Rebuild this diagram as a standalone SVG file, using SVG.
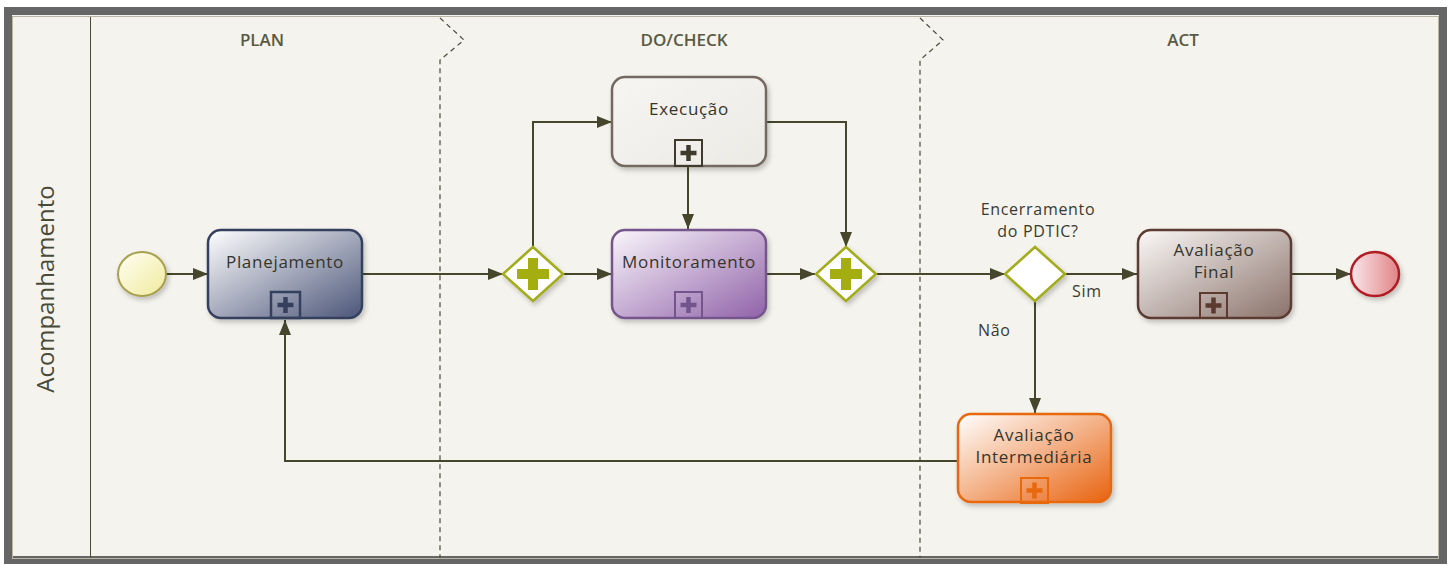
<svg xmlns="http://www.w3.org/2000/svg" width="1451" height="565" viewBox="0 0 1451 565">
<defs>
<style>
.hdr{font-family:"Open Sans","Liberation Sans",sans-serif;font-size:17px;font-weight:600;fill:#5a5a42;text-anchor:middle}
.lbl{font-family:"Open Sans","Liberation Sans",sans-serif;font-size:17px;fill:#35352b;text-anchor:middle;letter-spacing:0.7px}
.glbl{font-family:"Open Sans","Liberation Sans",sans-serif;font-size:16px;fill:#3a3a30;letter-spacing:0.7px}
.conn{fill:none;stroke:#46462c;stroke-width:2;marker-end:url(#arr)}
.sep{fill:none;stroke:#4a4a3a;stroke-width:1.2;stroke-dasharray:5 4}
.gw{stroke:#a2ac1a;stroke-width:2.5;fill:#ffffff}
.plus{fill:#a4ae10}
</style>
<marker id="arr" markerUnits="userSpaceOnUse" markerWidth="16" markerHeight="12" refX="15" refY="6" orient="auto">
<path d="M0,0 L15,6 L0,12 z" fill="#46462c"/>
</marker>
<filter id="sh" x="-10%" y="-10%" width="125%" height="130%">
<feDropShadow dx="2" dy="3" stdDeviation="2.5" flood-color="#000" flood-opacity="0.22"/>
</filter>
<linearGradient id="gPlan" x1="0" y1="0" x2="1" y2="1"><stop offset="0" stop-color="#ffffff"/><stop offset="1" stop-color="#4c5679"/></linearGradient>
<linearGradient id="gMon" x1="0" y1="0" x2="1" y2="1"><stop offset="0" stop-color="#faf6fc"/><stop offset="1" stop-color="#9062a8"/></linearGradient>
<linearGradient id="gExe" x1="0" y1="0" x2="1" y2="1"><stop offset="0" stop-color="#f6f5f2"/><stop offset="1" stop-color="#ebeae5"/></linearGradient>
<linearGradient id="gAF" x1="0" y1="0" x2="1" y2="1"><stop offset="0" stop-color="#fbf9f8"/><stop offset="1" stop-color="#8a726a"/></linearGradient>
<linearGradient id="gAI" x1="0" y1="0" x2="1" y2="1"><stop offset="0" stop-color="#ffffff"/><stop offset="1" stop-color="#e8620e"/></linearGradient>
<linearGradient id="gStart" x1="0" y1="0" x2="1" y2="1"><stop offset="0" stop-color="#fffff4"/><stop offset="1" stop-color="#f0ea9c"/></linearGradient>
<linearGradient id="gEnd" x1="0" y1="0" x2="1" y2="0"><stop offset="0" stop-color="#f9e6ea"/><stop offset="1" stop-color="#e08486"/></linearGradient>
</defs>

<rect x="0" y="0" width="1451" height="565" fill="#ffffff"/>
<g id="pool">
<rect x="8" y="11" width="1435" height="549" fill="#f4f3ee" stroke="#666666" stroke-width="8"/>
<rect x="12.5" y="16.5" width="1426" height="542" fill="none" stroke="#b8b6a2" stroke-width="1"/>
<line x1="90.5" y1="17" x2="90.5" y2="558" stroke="#4a4a3a" stroke-width="1"/>
<text x="0" y="0" transform="translate(54,289) rotate(-90)" font-family="Open Sans, Liberation Sans, sans-serif" font-size="24" fill="#4a4a38" text-anchor="middle">Acompanhamento</text>
<text class="hdr" x="262" y="46">PLAN</text>
<text class="hdr" x="684" y="46">DO/CHECK</text>
<text class="hdr" x="1183" y="46">ACT</text>
<path class="sep" d="M440,18 L464,40 L440,60 L440,558"/>
<path class="sep" d="M920,18 L943,40 L920,60 L920,558"/>
</g>

<g id="connectors">
<path class="conn" d="M166,274 L208,274"/>
<path class="conn" d="M362,274 L503,274"/>
<path class="conn" d="M563,274 L612,274"/>
<path class="conn" d="M533,247 L533,122 L612,122"/>
<path class="conn" d="M688,167 L688,229"/>
<path class="conn" d="M766,122 L846,122 L846,247"/>
<path class="conn" d="M766,274 L815,274"/>
<path class="conn" d="M876,274 L1005,274"/>
<path class="conn" d="M1065,274 L1137,274"/>
<path class="conn" d="M1292,274 L1351,274"/>
<path class="conn" d="M1035,300 L1035,413"/>
<path class="conn" d="M957,461 L285,461 L285,320"/>
<text class="glbl" x="1072" y="297">Sim</text>
<text class="glbl" x="978" y="336">Não</text>
</g>

<g id="start">
<ellipse cx="142" cy="274" rx="24" ry="22" fill="url(#gStart)" stroke="#a8a050" stroke-width="2" filter="url(#sh)"/>
</g>

<g id="planejamento">
<rect x="208" y="230" width="154" height="88" rx="13" fill="url(#gPlan)" stroke="#34405e" stroke-width="2.5" filter="url(#sh)"/>
<text class="lbl" x="285" y="268">Planejamento</text>
<rect x="271" y="292" width="29" height="26" fill="none" stroke="#34405e" stroke-width="2.5"/>
<path d="M285.5,297 V313 M277.5,305 H293.5" stroke="#34405e" stroke-width="4.5"/>
</g>

<g id="gw1">
<polygon class="gw" points="533,247 563,274 533,301 503,274" filter="url(#sh)"/>
<path class="plus" d="M528,258 h10 v11 h11 v10 h-11 v11 h-10 v-11 h-11 v-10 h11 z"/>
</g>

<g id="execucao">
<rect x="612" y="77" width="154" height="89" rx="13" fill="url(#gExe)" stroke="#746860" stroke-width="2.5" filter="url(#sh)"/>
<text class="lbl" x="689" y="115">Execução</text>
<rect x="675" y="140" width="27" height="26" fill="none" stroke="#3e3a2c" stroke-width="2"/>
<path d="M688.5,145 V161 M680.5,153 H696.5" stroke="#3e3a2c" stroke-width="4.5"/>
</g>

<g id="monitoramento">
<rect x="612" y="230" width="154" height="88" rx="13" fill="url(#gMon)" stroke="#74548c" stroke-width="2.5" filter="url(#sh)"/>
<text class="lbl" x="689" y="268">Monitoramento</text>
<rect x="675" y="292" width="27" height="26" fill="none" stroke="#74548c" stroke-width="2"/>
<path d="M688.5,297 V313 M680.5,305 H696.5" stroke="#74548c" stroke-width="4.5"/>
</g>

<g id="gw2">
<polygon class="gw" points="846,247 876,274 846,301 816,274" filter="url(#sh)"/>
<path class="plus" d="M841,258 h10 v11 h11 v10 h-11 v11 h-10 v-11 h-11 v-10 h11 z"/>
</g>

<g id="gw3">
<polygon class="gw" points="1035,247 1065,274 1035,301 1005,274" filter="url(#sh)"/>
<text class="glbl" x="1038" y="215" text-anchor="middle">Encerramento</text>
<text class="glbl" x="1038" y="237" text-anchor="middle">do PDTIC?</text>
</g>

<g id="avaliacao-final">
<rect x="1138" y="230" width="153" height="88" rx="13" fill="url(#gAF)" stroke="#5c3a30" stroke-width="2.5" filter="url(#sh)"/>
<text class="lbl" x="1214" y="256">Avaliação</text>
<text class="lbl" x="1214" y="278">Final</text>
<rect x="1200" y="293" width="27" height="25" fill="none" stroke="#5c3a30" stroke-width="2"/>
<path d="M1213.5,297.5 V313.5 M1205.5,305.5 H1221.5" stroke="#5c3a30" stroke-width="4.5"/>
</g>

<g id="end">
<ellipse cx="1375" cy="274" rx="24" ry="22" fill="url(#gEnd)" stroke="#b01e22" stroke-width="2.5" filter="url(#sh)"/>
</g>

<g id="avaliacao-intermediaria">
<rect x="958" y="414" width="153" height="88" rx="13" fill="url(#gAI)" stroke="#e8680e" stroke-width="2.5" filter="url(#sh)"/>
<text class="lbl" x="1034" y="441">Avaliação</text>
<text class="lbl" x="1034" y="463">Intermediária</text>
<rect x="1021" y="478" width="27" height="25" fill="none" stroke="#e8680e" stroke-width="2"/>
<path d="M1034.5,482.5 V498.5 M1026.5,490.5 H1042.5" stroke="#e8680e" stroke-width="4.5"/>
</g>
</svg>
